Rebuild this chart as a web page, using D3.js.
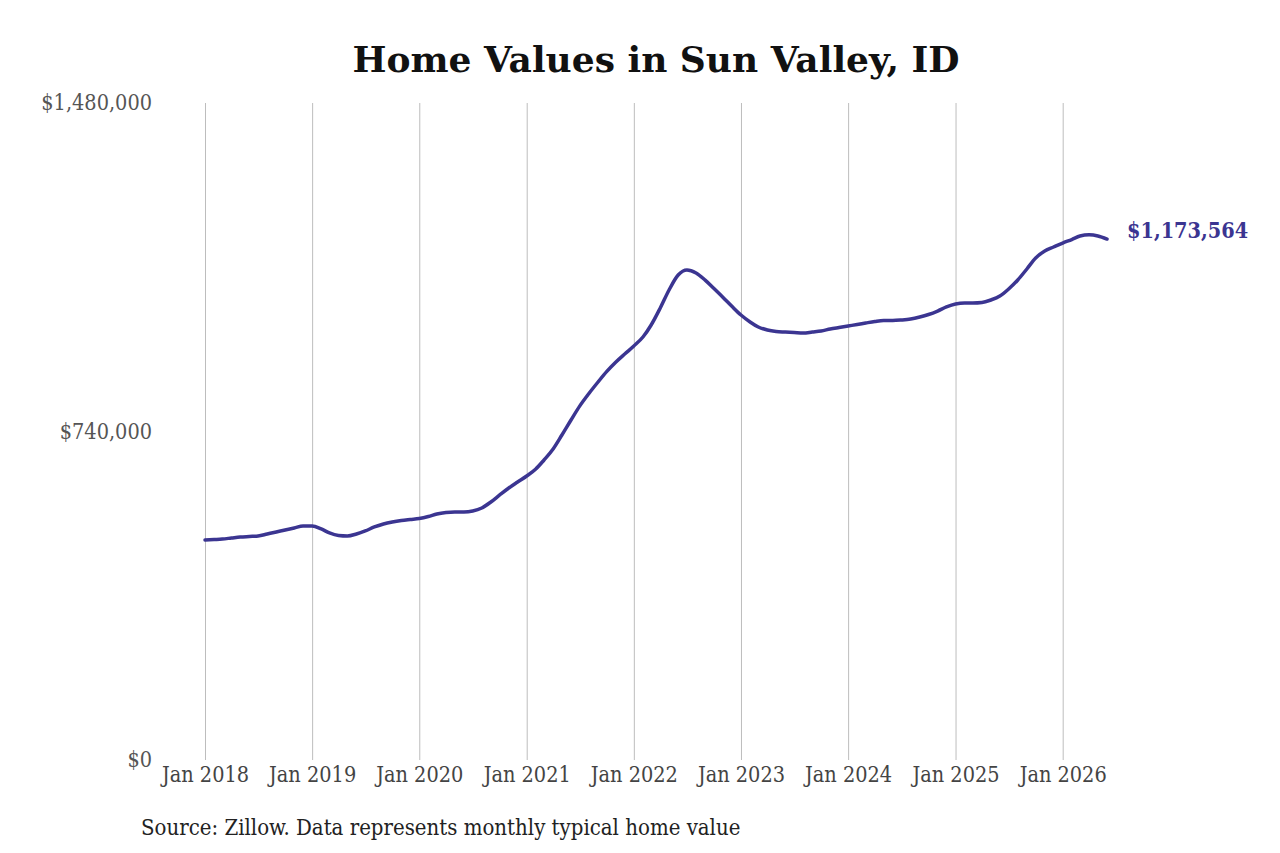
<!DOCTYPE html>
<html>
<head>
<meta charset="utf-8">
<script src="https://cdn.jsdelivr.net/npm/d3@7"></script>
<style>
  body { margin: 0; background: #fff; }
  svg { display: block; }
</style>
</head>
<body>
<div id="chart"></div>
<script>
const WIDTH = 1280;
const HEIGHT = 853;
const MARGINS = { left: 205, right: 173, top: 103, bottom: 93 };

const START_MONTH = "2018-01";
const Y_TICKS = [0, 740000, 1480000];
const X_TICK_YEARS = [2018, 2019, 2020, 2021, 2022, 2023, 2024, 2025, 2026];
const LAST_LABEL = "$1,173,564";

// monthly typical home value, Jan 2018 .. Jun 2026
const VALUES_2018 = [495600, 496700, 497800, 500100, 502300, 503500, 504600, 509100, 513600, 518100, 522600, 527100];
const VALUES_2019 = [527100, 520400, 511400, 505700, 504600, 509100, 515900, 524900, 531600, 536100, 539500, 541800];
const VALUES_2020 = [544000, 548500, 554200, 557500, 558700, 558700, 560900, 567700, 581200, 597000, 612700, 626200];
const VALUES_2021 = [639800, 655500, 675800, 700600, 732100, 765900, 797700, 825700, 851500, 875300, 896600, 914600];
const VALUES_2022 = [932600, 952900, 979900, 1018200, 1058800, 1092500, 1103800, 1097000, 1081000, 1062000, 1042000, 1022000];
const VALUES_2023 = [1002400, 986700, 975400, 968600, 965300, 964100, 963000, 961900, 964100, 966400, 970900, 974300];
const VALUES_2024 = [977700, 981000, 984400, 987800, 990000, 990000, 991200, 993400, 997900, 1003600, 1011400, 1020500];
const VALUES_2025 = [1027200, 1029500, 1029500, 1030600, 1036200, 1045200, 1061000, 1081300, 1106100, 1130800, 1146600, 1155600];
const VALUES_2026 = [1164600, 1172500, 1180400, 1183000, 1180500, 1173564];

const values = [].concat(VALUES_2018, VALUES_2019, VALUES_2020, VALUES_2021,
  VALUES_2022, VALUES_2023, VALUES_2024, VALUES_2025, VALUES_2026);

const parseMonth = d3.timeParse("%Y-%m");
const start = parseMonth(START_MONTH);
const data = values.map((v, i) => ({ date: d3.timeMonth.offset(start, i), value: v }));

const svg = d3.select("#chart")
  .append("svg")
  .attr("width", WIDTH)
  .attr("height", HEIGHT);

const X_SCALE = d3.scaleTime()
  .domain(d3.extent(data, (d) => d.date))
  .range([MARGINS.left, WIDTH - MARGINS.right]);

const Y_SCALE = d3.scaleLinear()
  .domain([0, 1480000])
  .range([HEIGHT - MARGINS.bottom, MARGINS.top]);

// title
svg.append("text")
  .attr("x", 656)
  .attr("y", 72)
  .attr("text-anchor", "middle")
  .attr("font-family", "DejaVu Serif")
  .attr("font-weight", "bold")
  .attr("font-size", "36px")
  .attr("fill", "#111")
  .text("Home Values in Sun Valley, ID");

// vertical grid + x labels
const tickDates = X_TICK_YEARS.map((y) => new Date(y, 0, 1));
const xAxis = svg.append("g")
  .attr("transform", "translate(0," + (HEIGHT - MARGINS.bottom) + ")")
  .call(d3.axisBottom(X_SCALE)
    .tickValues(tickDates)
    .tickSize(-(HEIGHT - MARGINS.top - MARGINS.bottom))
    .tickPadding(7)
    .tickFormat(d3.timeFormat("Jan %Y")));
xAxis.select(".domain").remove();
xAxis.selectAll(".tick line").attr("stroke", "#bdbdbd").attr("stroke-width", 1);
xAxis.selectAll(".tick text")
  .attr("font-family", "DejaVu Serif Condensed")
  .attr("font-size", "21.5px")
  .attr("fill", "#444");

// y labels
const yAxis = svg.append("g")
  .attr("transform", "translate(152,0)")
  .call(d3.axisLeft(Y_SCALE)
    .tickValues(Y_TICKS)
    .tickSize(0)
    .tickPadding(0)
    .tickFormat((d) => "$" + d3.format(",")(d)));
yAxis.select(".domain").remove();
yAxis.selectAll(".tick text")
  .attr("font-family", "DejaVu Serif Condensed")
  .attr("font-size", "21.5px")
  .attr("fill", "#555");

// line
const line = d3.line()
  .x((d) => X_SCALE(d.date))
  .y((d) => Y_SCALE(d.value))
  .curve(d3.curveMonotoneX);

svg.append("path")
  .datum(data)
  .attr("d", line)
  .attr("fill", "none")
  .attr("stroke", "#3b3591")
  .attr("stroke-width", 3.5)
  .attr("stroke-linejoin", "round")
  .attr("stroke-linecap", "round");

// end label
const last = data[data.length - 1];
svg.append("text")
  .attr("x", X_SCALE(last.date) + 20)
  .attr("y", Y_SCALE(last.value) - 1)
  .attr("font-family", "DejaVu Serif Condensed")
  .attr("font-weight", "bold")
  .attr("font-size", "21.5px")
  .attr("fill", "#3b3591")
  .text(LAST_LABEL);

// source note
svg.append("text")
  .attr("x", 141)
  .attr("y", 835)
  .attr("font-family", "DejaVu Serif Condensed")
  .attr("font-size", "22px")
  .attr("fill", "#222")
  .text("Source: Zillow. Data represents monthly typical home value");
</script>
</body>
</html>
